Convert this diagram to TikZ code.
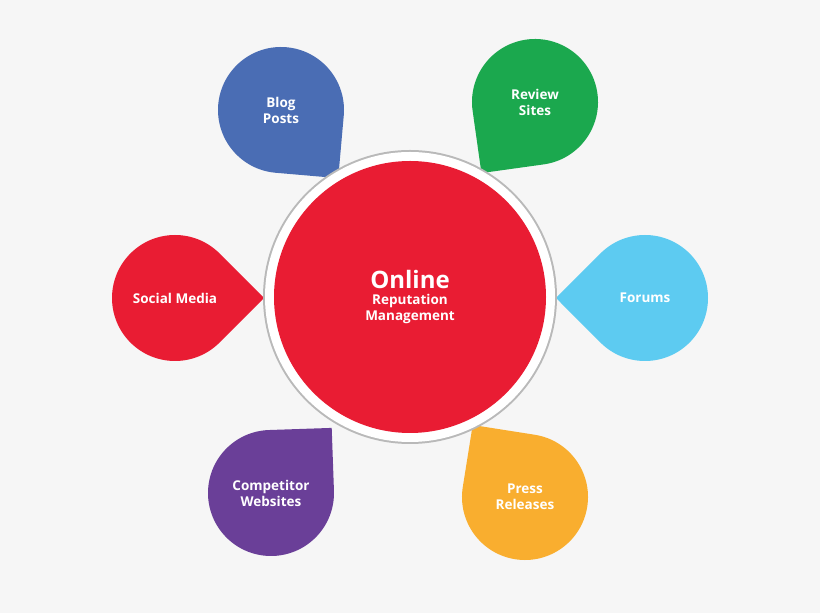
\documentclass[tikz,border=0pt]{standalone}
\usepackage{fontspec}
\setmainfont{Open Sans}
\definecolor{bg}{HTML}{F6F6F6}
\definecolor{cred}{HTML}{E91C33}
\definecolor{cblue}{HTML}{4A6DB4}
\definecolor{cgreen}{HTML}{1BA84E}
\definecolor{clblue}{HTML}{5DCBF1}
\definecolor{cpurple}{HTML}{6A3F98}
\definecolor{corange}{HTML}{F9AE2F}
\tikzset{
  lbl/.style={text=white,align=center,font=\fontsize{13.5}{16}\selectfont\bfseries},
}
\newcommand{\petal}[5]{% center x, y, angle, colour, name
  \begin{scope}[shift={(#1,#2)},rotate=#3]
    \fill[#4] (45:63) arc[start angle=45,end angle=315,radius=63] -- (89,0) -- cycle;
  \end{scope}
  \coordinate (#5) at (#1,#2);
}
\begin{document}
\begin{tikzpicture}[x=1pt,y=1pt]
\fill[bg] (0,0) rectangle (820,613);
\useasboundingbox (0,0) rectangle (820,613);
\petal{281}{503}{-50}{cblue}{blog}
\petal{535}{511}{-127}{cgreen}{review}
\petal{175}{315}{0}{cred}{social}
\petal{645}{315}{180}{clblue}{forums}
\petal{271}{120}{47}{cpurple}{comp}
\petal{525}{116}{126}{corange}{press}
\fill[gray!55] (410,316) circle[radius=147];
\fill[white] (410,316) circle[radius=145];
\fill[cred] (410,316) circle[radius=136];
\node[lbl] (center) at (410,316) {\fontsize{24}{40}\selectfont Online\\Reputation\\Management};
\node[lbl] at (blog) {Blog\\Posts};
\node[lbl] at (review) {Review\\Sites};
\node[lbl] at (social) {Social Media};
\node[lbl] at (forums) {Forums};
\node[lbl] at (comp) {Competitor\\Websites};
\node[lbl] at (press) {Press\\Releases};
\end{tikzpicture}
\end{document}
